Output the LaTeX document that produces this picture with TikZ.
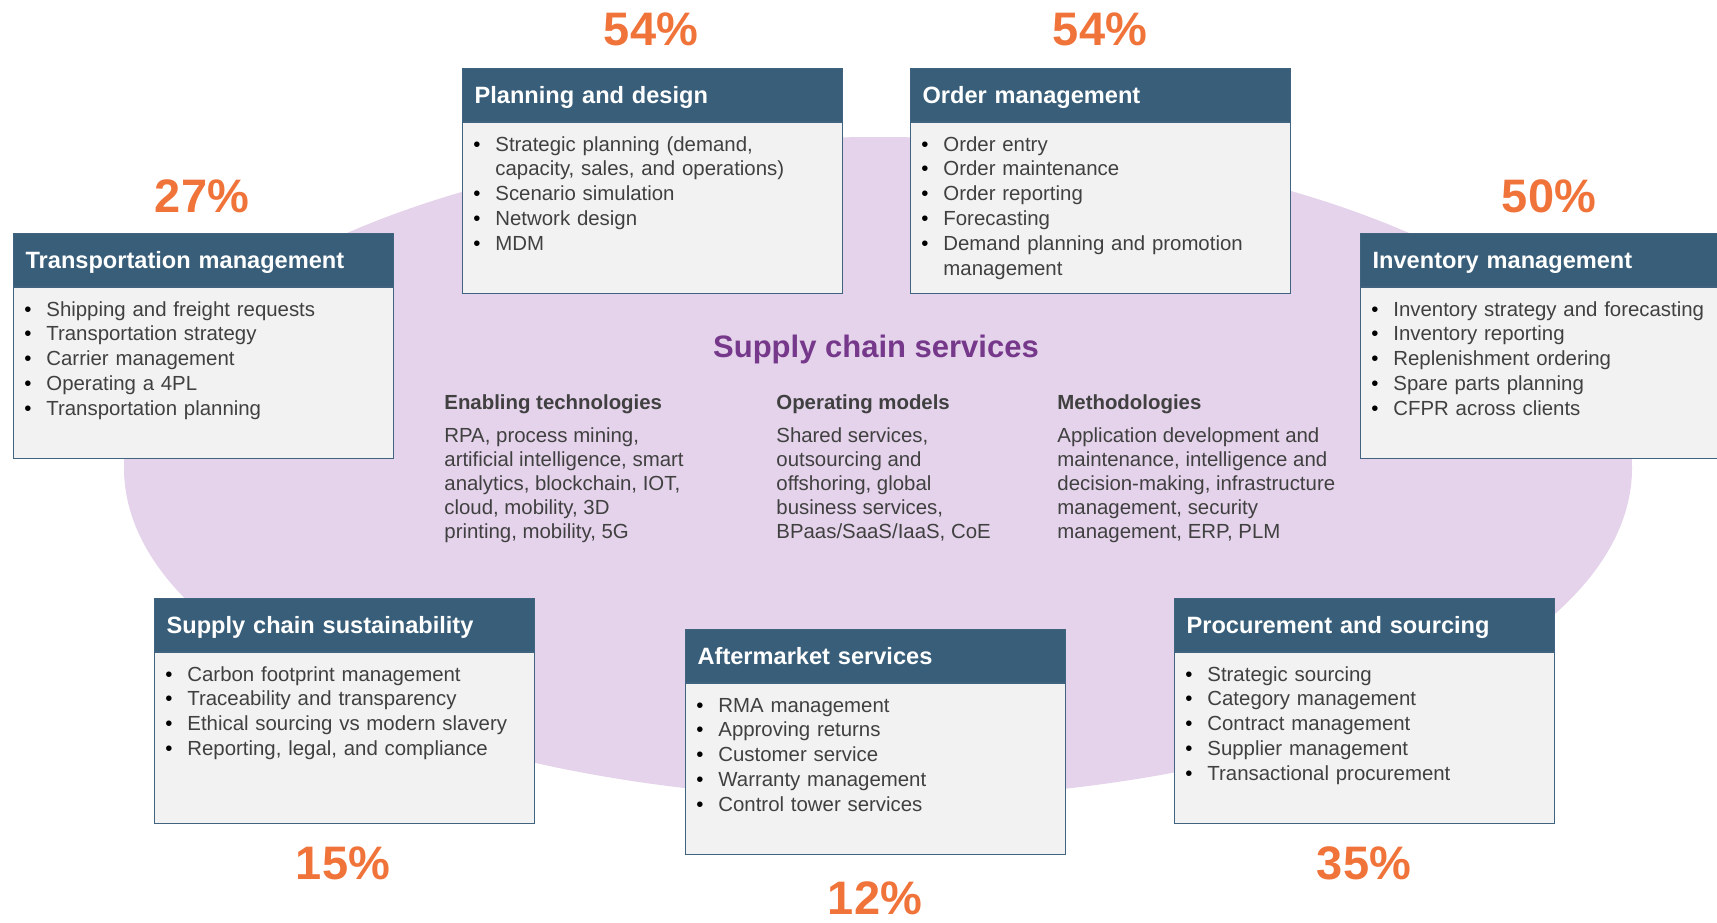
\documentclass[tikz,border=0pt]{standalone}
\usepackage{fontspec}
\setmainfont{Liberation Sans}
\usetikzlibrary{positioning}
\definecolor{headblue}{RGB}{56,94,121}
\definecolor{boxline}{RGB}{64,100,128}
\definecolor{boxgray}{RGB}{242,242,242}
\definecolor{ovalfill}{RGB}{228,211,235}
\definecolor{pctorange}{RGB}{240,115,58}
\definecolor{titlepurple}{RGB}{118,56,138}
\definecolor{textgray}{RGB}{64,64,64}
\tikzset{
  head/.style={draw=boxline, fill=headblue, text=white, line width=0.6pt,
    font=\fontsize{11.8}{14}\selectfont\bfseries, anchor=north west,
    text width=178pt, inner xsep=6pt, inner ysep=0pt,
    text height=17.5pt, text depth=9pt, align=left},
  body/.style={draw=boxline, fill=boxgray, line width=0.6pt, anchor=north,
    minimum width=190pt, minimum height=85.5pt, inner sep=0pt},
  items/.style={anchor=north west, inner sep=0pt, text width=180pt, align=left,
    text=textgray, font=\fontsize{10.2}{12.4}\selectfont},
  col/.style={anchor=north west, inner sep=0pt, align=left,
    text=textgray, font=\fontsize{10.2}{12}\selectfont},
  title/.style={anchor=base, text=titlepurple, font=\fontsize{15.5}{18}\selectfont\bfseries},
  pct/.style={anchor=base, text=pctorange, font=\fontsize{23.5}{28}\selectfont\bfseries}
}
% one bullet line of a box
\newcommand{\bul}{\par\hangindent=11pt\hangafter=1\noindent\strut\makebox[11pt][l]{\color{black}\textbullet}}
% box: name, corner, title, items
\newcommand{\svcbox}[4]{%
  \node[head] (#1) at #2 {#3};
  \node[body] (#1b) at (#1.south) {};
  \node[items] (#1l) at ([xshift=5.5pt,yshift=-1.8pt]#1b.north west) {#4\par};
}

\begin{document}
\begin{tikzpicture}[x=0.5pt, y=-0.5pt]
\useasboundingbox (0,0) rectangle (1717,922);
\clip (0,0) rectangle (1717,922);
% background oval
\fill[ovalfill] (878,468) ellipse [x radius=754, y radius=331];
% middle text
\node[title] (sup) at (876,357) {Supply chain services};
\node[col] (tech) at (444,392) {\strut\textbf{Enabling technologies}\\[4.5pt]
  RPA, process mining,\\ artificial intelligence, smart\\ analytics, blockchain, IOT,\\
  cloud, mobility, 3D\\ printing, mobility, 5G};
\node[col] (opm) at (776,392) {\strut\textbf{Operating models}\\[4.5pt]
  Shared services,\\ outsourcing and\\ offshoring, global\\ business services,\\
  BPaas/SaaS/IaaS, CoE};
\node[col] (meth) at (1057,392) {\strut\textbf{Methodologies}\\[4.5pt]
  Application development and\\ maintenance, intelligence and\\
  decision-making, infrastructure\\ management, security\\ management, ERP, PLM};
% the seven boxes
\svcbox{trans}{(13,233)}{Transportation management}{\bul Shipping and freight requests
  \bul Transportation strategy \bul Carrier management \bul Operating a 4PL
  \bul Transportation planning}
\svcbox{plan}{(462,68)}{Planning and design}{\bul Strategic planning (demand,\newline
  capacity, sales, and operations) \bul Scenario simulation \bul Network design \bul MDM}
\svcbox{order}{(910,68)}{Order management}{\bul Order entry \bul Order maintenance
  \bul Order reporting \bul Forecasting \bul Demand planning and promotion\newline management}
\svcbox{inv}{(1360,233)}{Inventory management}{\bul Inventory strategy and forecasting
  \bul Inventory reporting \bul Replenishment ordering \bul Spare parts planning
  \bul CFPR across clients}
\svcbox{sust}{(154,598)}{Supply chain sustainability}{\bul Carbon footprint management
  \bul Traceability and transparency \bul Ethical sourcing vs modern slavery
  \bul Reporting, legal, and compliance}
\svcbox{after}{(685,629)}{Aftermarket services}{\bul RMA management \bul Approving returns
  \bul Customer service \bul Warranty management \bul Control tower services}
\svcbox{proc}{(1174,598)}{Procurement and sourcing}{\bul Strategic sourcing
  \bul Category management \bul Contract management \bul Supplier management
  \bul Transactional procurement}
% percentages
\node[pct] (ptrans) at (202,212) {27\%};
\node[pct] (pplan) at (651,45) {54\%};
\node[pct] (porder) at (1100,45) {54\%};
\node[pct] (pinv) at (1549,212) {50\%};
\node[pct] (psust) at (343,879) {15\%};
\node[pct] (pafter) at (875,914) {12\%};
\node[pct] (pproc) at (1364,879) {35\%};
\end{tikzpicture}
\end{document}
